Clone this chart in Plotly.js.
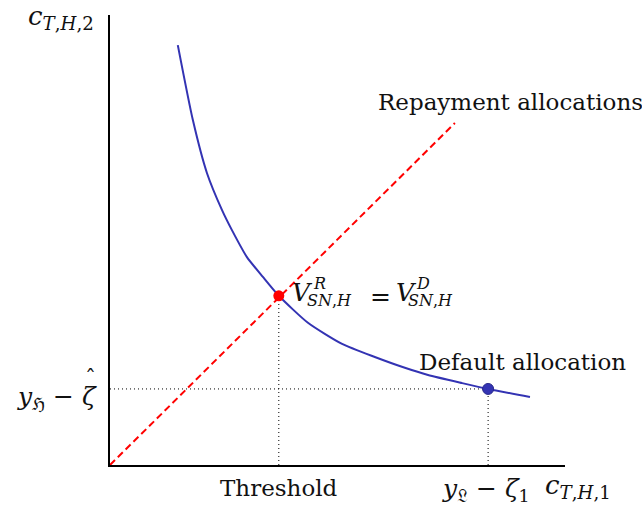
<!DOCTYPE html>
<html>
<head>
<meta charset="utf-8">
<script src="https://cdn.plot.ly/plotly-3.0.1.min.js"></script>
<style>html,body{margin:0;padding:0;background:#fff;}#chart{width:642px;height:512px;}</style>
</head>
<body>
<div id="chart"></div>
<script>
// Indifference curve (c_{T,H,1}, c_{T,H,2})
const curveX = [1.49, 1.82, 2.13, 2.46, 2.68, 3.01, 3.36, 3.71, 4.35, 5.10, 5.82, 6.48, 6.99, 7.74, 8.31, 9.23];
const curveY = [9.33, 7.67, 6.49, 5.67, 5.22, 4.62, 4.18, 3.76, 3.16, 2.69, 2.40, 2.16, 2.00, 1.82, 1.69, 1.51];
// Repayment allocations (45-degree line)
const repayX = [0, 7.58];
const repayY = [0, 7.60];
// Special points
const thresholdPt = [3.71, 3.76];
const defaultPt = [8.31, 1.69];

const BLUE = 'rgb(51,51,179)';
const RED = 'rgb(255,0,0)';
const FONT = 'DejaVu Serif';
const DOT = {color: '#000', width: 1, dash: '1px,3px'};

const traces = [
  {x: [0, defaultPt[0]], y: [defaultPt[1], defaultPt[1]], mode: 'lines', line: DOT},
  {x: [thresholdPt[0], thresholdPt[0]], y: [0, thresholdPt[1]], mode: 'lines', line: DOT},
  {x: [defaultPt[0], defaultPt[0]], y: [0, defaultPt[1]], mode: 'lines', line: DOT},
  {x: repayX, y: repayY, mode: 'lines', line: {color: RED, width: 2, dash: '7px,4px'}},
  {x: curveX, y: curveY, mode: 'lines', line: {color: BLUE, width: 2, shape: 'spline', smoothing: 0.6}},
  {x: [thresholdPt[0]], y: [thresholdPt[1]], mode: 'markers',
   marker: {color: RED, size: 11}},
  {x: [defaultPt[0]], y: [defaultPt[1]], mode: 'markers',
   marker: {color: BLUE, size: 11, line: {color: 'rgb(40,40,140)', width: 1}}}
];

const L = 110, R = 565, T = 15, B = 465;
function lab(px, py, text, size, xanchor) {
  return {x: (px - L) / (R - L), y: (B - py) / (B - T), xref: 'paper', yref: 'paper',
    text: text, showarrow: false, xanchor: xanchor || 'center', yanchor: 'middle',
    font: {family: FONT, size: size, color: '#111'}};
}

const annotations = [
  lab(510, 102, 'Repayment allocations', 23),
  lab(522, 362, 'Default allocation', 23),
  lab(279, 488, 'Threshold', 23),
  lab(26, 17, '<i>c</i><sub><i>T</i>,<i>H</i>,2</sub>', 26, 'left'),
  lab(543, 486, '<i>c</i><sub><i>T</i>,<i>H</i>,1</sub>', 26, 'left'),
  lab(440, 490, '<i>y</i><sub>𝔏</sub> − <i>ζ</i><sub>1</sub>', 25, 'left'),
  lab(99, 398, '<i>y</i><sub>ℌ</sub> − <i>ζ</i>', 25, 'right'),
  lab(90, 378, 'ˆ', 22, 'center'),
  // V^R_{SN,H} = V^D_{SN,H}
  lab(290, 292, '<i>V</i>', 25, 'left'),
  lab(311, 283, '<i>R</i>', 16, 'left'),
  lab(305, 300, '<i>SN</i>,<i>H</i>', 16, 'left'),
  lab(380, 296, '=', 25, 'center'),
  lab(394, 292, '<i>V</i>', 25, 'left'),
  lab(414, 283, '<i>D</i>', 16, 'left'),
  lab(406, 300, '<i>SN</i>,<i>H</i>', 16, 'left')
];

const layout = {
  width: 642, height: 512,
  margin: {l: L, r: 642 - R, t: T, b: 512 - B, pad: 0},
  paper_bgcolor: '#fff', plot_bgcolor: '#fff',
  showlegend: false,
  xaxis: {range: [0, 10], showline: true, linecolor: '#000', linewidth: 2,
    showgrid: false, zeroline: false, showticklabels: false, ticks: '', fixedrange: true},
  yaxis: {range: [0, 10], showline: true, linecolor: '#000', linewidth: 2,
    showgrid: false, zeroline: false, showticklabels: false, ticks: '', fixedrange: true},
  annotations: annotations
};

Plotly.newPlot('chart', traces, layout, {displayModeBar: false, staticPlot: true});
</script>
</body>
</html>
